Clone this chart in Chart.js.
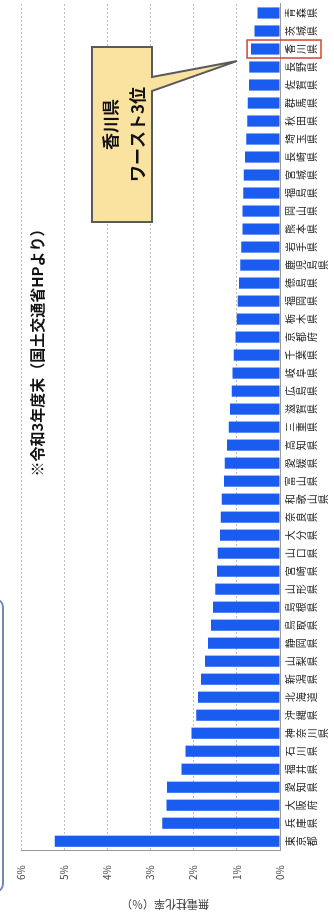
<!DOCTYPE html>
<html lang="ja">
<head>
<meta charset="utf-8">
<title>都道府県別 無電柱化率</title>
<script src="https://cdn.jsdelivr.net/npm/chart.js@4.4.1/dist/chart.umd.min.js"></script>
<style>
  html, body { margin: 0; padding: 0; background: #fff; overflow: hidden; }
  /* the chart is laid out landscape and turned a quarter turn to stand upright */
  #wrap {
    position: absolute; left: 0; top: 0;
    width: 913px; height: 334px;
    transform-origin: 0 0;
    transform: translateY(913px) rotate(-90deg);
  }
  #chart { position: absolute; left: 0; top: 0; }
  #frame {
    position: absolute; left: 20px; top: -22px;
    width: 291px; height: 22px;
    border: 2px solid #7189b8; border-radius: 9px;
  }
</style>
</head>
<body>
<div id="wrap">
  <canvas id="chart" width="913" height="334"></canvas>
  <div id="frame"></div>
</div>
<script>
// ===== DATA (highest to lowest) =====
const prefectures = [
  '東京都', '兵庫県', '大阪府', '愛知県', '福井県', '石川県', '神奈川県', '沖縄県',
  '北海道', '新潟県', '山梨県', '静岡県', '鳥取県', '島根県', '山形県', '宮崎県',
  '山口県', '大分県', '奈良県', '和歌山県', '富山県', '愛媛県', '高知県', '三重県',
  '滋賀県', '広島県', '岐阜県', '千葉県', '京都府', '栃木県', '福岡県', '徳島県',
  '鹿児島県', '岩手県', '熊本県', '岡山県', '福島県', '宮城県', '長崎県', '埼玉県',
  '秋田県', '群馬県', '佐賀県', '長野県', '香川県', '茨城県', '青森県'
];
const ratios = [
  5.22, 2.73, 2.63, 2.62, 2.28, 2.19, 2.05, 1.94,
  1.90, 1.83, 1.74, 1.67, 1.60, 1.55, 1.50, 1.46,
  1.44, 1.39, 1.37, 1.35, 1.30, 1.28, 1.23, 1.19,
  1.16, 1.12, 1.10, 1.07, 1.03, 1.00, 0.98, 0.95,
  0.92, 0.90, 0.87, 0.87, 0.85, 0.84, 0.81, 0.78,
  0.76, 0.75, 0.72, 0.71, 0.67, 0.59, 0.52
];
const highlight = '香川県';
const calloutLines = ['香川県', 'ワースト3位'];
const note = '※令和3年度末（国土交通省HPより）';
const axisTitle = '無電柱化率（％）';

const JP = "'Noto Sans CJK JP', 'Noto Sans', sans-serif";

// ===== OVERLAYS =====
const overlays = {
  id: 'overlays',
  afterDraw(chart) {
    const { ctx } = chart;
    const xs = chart.scales.x, ys = chart.scales.y;
    ctx.save();

    // value axis title
    ctx.save();
    ctx.translate(9, 165);
    ctx.rotate(-Math.PI / 2);
    ctx.fillStyle = '#333';
    ctx.font = `11px ${JP}`;
    ctx.textAlign = 'center';
    ctx.textBaseline = 'middle';
    ctx.fillText(axisTitle, 0, 0);
    ctx.restore();

    // source note
    ctx.fillStyle = '#111';
    ctx.font = `bold 15px ${JP}`;
    ctx.textAlign = 'center';
    ctx.textBaseline = 'middle';
    ctx.fillText(note, 564, 37);

    // red frame round the highlighted prefecture
    const i = prefectures.indexOf(highlight);
    const cx = xs.getPixelForValue(i);
    const barEnd = ys.getPixelForValue(ratios[i]);
    ctx.strokeStyle = '#cf4436';
    ctx.lineWidth = 1.5;
    ctx.strokeRect(cx - 9, barEnd - 4, 18, 321 - (barEnd - 4));

    // callout with pointer
    const bx = 691, by = 92, bw = 175, bh = 60;
    ctx.beginPath();
    ctx.moveTo(bx, by);
    ctx.lineTo(bx + bw, by);
    ctx.lineTo(bx + bw, by + bh);
    ctx.lineTo(836, by + bh);
    ctx.lineTo(cx - 12, 237);
    ctx.lineTo(822, by + bh);
    ctx.lineTo(bx, by + bh);
    ctx.closePath();
    ctx.fillStyle = '#fae3a1';
    ctx.fill();
    ctx.strokeStyle = '#5a5a5a';
    ctx.lineWidth = 2;
    ctx.stroke();

    ctx.fillStyle = '#111';
    ctx.font = `bold 17px ${JP}`;
    ctx.fillText(calloutLines[0], bx + bw / 2 + 10, 111);
    ctx.fillText(calloutLines[1], bx + bw / 2, 138);
    ctx.restore();
  }
};

// ===== CHART =====
new Chart(document.getElementById('chart'), {
  type: 'bar',
  data: {
    labels: prefectures,
    datasets: [{
      data: ratios,
      backgroundColor: '#1a5cf0',
      borderWidth: 0,
      categoryPercentage: 1,
      barPercentage: 0.62
    }]
  },
  options: {
    responsive: false,
    animation: false,
    layout: { padding: { top: 10, right: 4, bottom: 0, left: 18 } },
    plugins: { legend: { display: false }, tooltip: { enabled: false } },
    scales: {
      x: {
        grid: { display: false, drawTicks: false },
        border: { display: true, color: '#9a9a9a', width: 1 },
        ticks: {
          autoSkip: false, maxRotation: 0, minRotation: 0, padding: 5,
          color: '#222',
          font: { family: JP, size: 10, lineHeight: 1.1 },
          callback(value) { return this.getLabelForValue(value).split(''); }
        }
      },
      y: {
        min: 0, max: 6,
        grid: { color: '#bdbdbd', lineWidth: 1, drawTicks: false },
        border: { display: true, color: '#9a9a9a', width: 1, dash: [2, 2] },
        ticks: {
          stepSize: 1, padding: 15, color: '#444',
          font: { family: JP, size: 10 },
          callback: v => v + '%'
        }
      }
    }
  },
  plugins: [overlays]
});
</script>
</body>
</html>
